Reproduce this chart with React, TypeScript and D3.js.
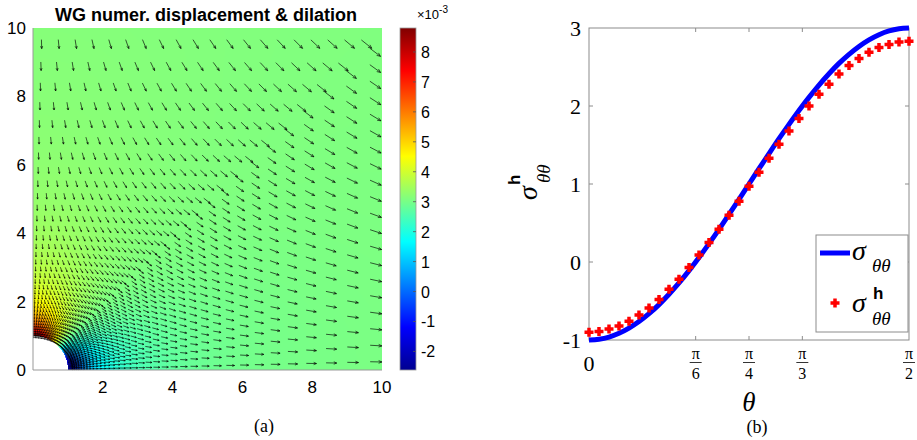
import React, { useMemo } from 'react';
import * as d3 from 'd3';

// ---------- panel (a): field plot ----------
const fieldTicksY = [0, 2, 4, 6, 8, 10];
const fieldTicksX = [2, 4, 6, 8, 10];
const colorTicks = [-2, -1, 0, 1, 2, 3, 4, 5, 6, 7, 8];
const colorDomain = [-2.62, 8.8]; // x 1e-3
// jet colormap stops
const jetPos = [0, 0.125, 0.375, 0.625, 0.875, 1];
const jetColors = ['#000090', '#0000ff', '#00ffff', '#ffff00', '#ff0000', '#800000'];
// dilation (x 1e-3): far field and swing at the hole edge
const farDilation = 3.1;
const holeSwing = 5.7;
// mesh: 20 cells along each outer edge, ~36 graded rings
const edgeCells = 20;
const ringCells = 36;
const ringGrowth = 1.075;
// arrow length (px): [near-hole part, linear part]
const arrowX = [3.5, 0.85];
const arrowY = [2.5, 0.68];

// ---------- panel (b): sigma_theta_theta ----------
const thetaDeg = [0, 2.81, 5.63, 8.44, 11.25, 14.06, 16.88, 19.69, 22.5, 25.31, 28.13, 30.94, 33.75,
  36.56, 39.38, 42.19, 45, 47.81, 50.63, 53.44, 56.25, 59.06, 61.88, 64.69, 67.5, 70.31, 73.13,
  75.94, 78.75, 81.56, 84.38, 87.19, 90];
const sigmaExact = [-1, -0.99, -0.962, -0.914, -0.848, -0.764, -0.663, -0.546, -0.414, -0.269, -0.111,
  0.057, 0.235, 0.419, 0.61, 0.804, 1, 1.196, 1.39, 1.581, 1.765, 1.943, 2.111, 2.269, 2.414, 2.546,
  2.663, 2.764, 2.848, 2.914, 2.962, 2.99, 3];
const sigmaH = [-0.9, -0.89, -0.86, -0.82, -0.76, -0.68, -0.59, -0.48, -0.35, -0.22, -0.07, 0.09,
  0.25, 0.42, 0.6, 0.78, 0.97, 1.15, 1.33, 1.51, 1.68, 1.84, 2.0, 2.15, 2.28, 2.41, 2.52, 2.61, 2.69,
  2.75, 2.79, 2.82, 2.83];
const yTicksB = [-1, 0, 1, 2, 3];
const xTicksB = [
  { v: 0, num: '', den: '' },
  { v: Math.PI / 6, num: 'π', den: '6' },
  { v: Math.PI / 4, num: 'π', den: '4' },
  { v: Math.PI / 3, num: 'π', den: '3' },
  { v: Math.PI / 2, num: 'π', den: '2' },
];

const sans = 'Liberation Sans, Arial, Helvetica, sans-serif';
const serif = 'Liberation Serif, DejaVu Serif, serif';

const App = () => {
  const fx = d3.scaleLinear().domain([0, 10]).range([33, 382]);
  const fy = d3.scaleLinear().domain([0, 10]).range([370, 28]);
  const cy = d3.scaleLinear().domain(colorDomain).range([370, 28]);
  const jet = d3
    .scaleLinear<string>()
    .domain(jetPos.map(p => colorDomain[0] + p * (colorDomain[1] - colorDomain[0])))
    .range(jetColors)
    .interpolate(d3.interpolateRgb)
    .clamp(true);

  const dilation = (x: number, y: number) => {
    const r2 = x * x + y * y;
    const c2 = (x * x - y * y) / r2;
    return farDilation - (holeSwing * c2) / r2;
  };

  // field image drawn to a canvas, then put into the svg
  const fieldImage = useMemo(() => {
    const x0 = fx.range()[0], x1 = fx.range()[1];
    const y0 = fy.range()[1], y1 = fy.range()[0];
    const w = Math.round(x1 - x0), h = Math.round(y1 - y0);
    const canvas = document.createElement('canvas');
    canvas.width = w;
    canvas.height = h;
    const ctx = canvas.getContext('2d');
    if (!ctx) return '';
    const img = ctx.createImageData(w, h);
    for (let j = 0; j < h; j++) {
      for (let i = 0; i < w; i++) {
        const x = fx.invert(x0 + i + 0.5);
        const y = fy.invert(y0 + j + 0.5);
        const k = (j * w + i) * 4;
        if (x * x + y * y < 1) {
          img.data[k + 3] = 0;
          continue;
        }
        const c = d3.rgb(jet(dilation(x, y)));
        img.data[k] = c.r;
        img.data[k + 1] = c.g;
        img.data[k + 2] = c.b;
        img.data[k + 3] = 255;
      }
    }
    ctx.putImageData(img, 0, 0);
    return canvas.toDataURL();
  }, []);

  // quiver arrows at cell centres of the mapped mesh
  const arrowPath = useMemo(() => {
    const nA = edgeCells * 2;
    const total = Math.pow(ringGrowth, ringCells) - 1;
    const s = d3.range(ringCells + 1).map(i => (Math.pow(ringGrowth, i) - 1) / total);
    const node = (i: number, j: number) => {
      const phi = (j / nA) * (Math.PI / 2);
      const ix = Math.cos(phi), iy = Math.sin(phi);
      const ox = j <= edgeCells ? 10 : 10 * (nA - j) / edgeCells;
      const oy = j <= edgeCells ? 10 * j / edgeCells : 10;
      return [ix + s[i] * (ox - ix), iy + s[i] * (oy - iy)];
    };
    const p = d3.path();
    for (let i = 0; i < ringCells; i++) {
      for (let j = 0; j < nA; j++) {
        const a = node(i, j), b = node(i + 1, j), c = node(i + 1, j + 1), d = node(i, j + 1);
        const x = (a[0] + b[0] + c[0] + d[0]) / 4;
        const y = (a[1] + b[1] + c[1] + d[1]) / 4;
        const r = Math.hypot(x, y);
        const ux = arrowX[0] * x / r + arrowX[1] * x;
        const uy = arrowY[0] * y / r + arrowY[1] * y; // downward, px
        const px = fx(x), py = fy(y);
        const tx = px + ux, ty = py + uy;
        const L = Math.hypot(ux, uy);
        const ang = Math.atan2(uy, ux);
        const hl = L * 0.3;
        p.moveTo(px, py);
        p.lineTo(tx, ty);
        p.moveTo(tx - hl * Math.cos(ang - 0.4), ty - hl * Math.sin(ang - 0.4));
        p.lineTo(tx, ty);
        p.lineTo(tx - hl * Math.cos(ang + 0.4), ty - hl * Math.sin(ang + 0.4));
      }
    }
    return p.toString();
  }, []);

  // panel (b) scales
  const bx = d3.scaleLinear().domain([0, Math.PI / 2]).range([589, 909]);
  const by = d3.scaleLinear().domain([-1, 3]).range([340, 28]);
  const rad = thetaDeg.map(d => (d * Math.PI) / 180);
  const line = d3
    .line<number>()
    .x((_, i) => bx(rad[i]))
    .y(d => by(d))
    .curve(d3.curveMonotoneX);

  const holePath = `M${fx(0)},${fy(0)} L${fx(1)},${fy(0)} A${fx(1) - fx(0)},${fy(0) - fy(1)} 0 0 0 ${fx(0)},${fy(1)} Z`;
  const plus = 'M-4.5,0H4.5M0,-4.5V4.5';

  return (
    <svg width={917} height={440} style={{ position: 'absolute', left: 0, top: 0, background: '#fff' }}>
      <defs>
        <linearGradient id="jetbar" x1="0" y1="1" x2="0" y2="0">
          {jetPos.map((p, i) => (
            <stop key={i} offset={p} stopColor={jetColors[i]} />
          ))}
        </linearGradient>
      </defs>

      {/* ----- panel (a) ----- */}
      <text x={206} y={21} textAnchor="middle" fontFamily={sans} fontWeight="bold" fontSize={18}>
        WG numer. displacement &amp; dilation
      </text>
      <image href={fieldImage} x={fx(0)} y={fy(10)} width={fx(10) - fx(0)} height={fy(0) - fy(10)} />
      <path d={holePath} fill="#fff" />
      <path d={arrowPath} fill="none" stroke="#000" strokeWidth={0.65} />
      <line x1={fx(0)} x2={fx(0)} y1={fy(0)} y2={fy(10)} stroke="#999" strokeWidth={1} />
      <line x1={fx(0)} x2={fx(10)} y1={fy(0)} y2={fy(0)} stroke="#999" strokeWidth={1} />
      {fieldTicksY.map(t => (
        <text key={t} x={26} y={fy(t) + 6} textAnchor="end" fontFamily={sans} fontSize={17}>
          {t}
        </text>
      ))}
      {fieldTicksX.map(t => (
        <text key={t} x={fx(t)} y={393} textAnchor="middle" fontFamily={sans} fontSize={17}>
          {t}
        </text>
      ))}
      <text x={264} y={432} textAnchor="middle" fontFamily={serif} fontSize={18}>
        (a)
      </text>

      {/* colorbar */}
      <rect x={400} y={28} width={16} height={342} fill="url(#jetbar)" stroke="#999" strokeWidth={0.8} />
      {colorTicks.map(t => (
        <g key={t}>
          <line x1={413} x2={416} y1={cy(t)} y2={cy(t)} stroke="#555" strokeWidth={0.8} />
          <text x={421} y={cy(t) + 6} fontFamily={sans} fontSize={16}>
            {t}
          </text>
        </g>
      ))}
      <text x={417} y={19} fontFamily={sans} fontSize={13}>
        ×10
        <tspan dy={-6} fontSize={10}>-3</tspan>
      </text>

      {/* ----- panel (b) ----- */}
      <rect x={bx(0)} y={by(3)} width={bx(Math.PI / 2) - bx(0)} height={by(-1) - by(3)} fill="none" stroke="#8c8c8c" strokeWidth={1} />
      {xTicksB.slice(1, 4).map(t => (
        <g key={t.den}>
          <line x1={bx(t.v)} x2={bx(t.v)} y1={by(-1)} y2={by(-1) - 4} stroke="#8c8c8c" />
          <line x1={bx(t.v)} x2={bx(t.v)} y1={by(3)} y2={by(3) + 4} stroke="#8c8c8c" />
        </g>
      ))}
      {yTicksB.slice(1, 4).map(t => (
        <g key={t}>
          <line x1={bx(0)} x2={bx(0) + 4} y1={by(t)} y2={by(t)} stroke="#8c8c8c" />
          <line x1={bx(Math.PI / 2)} x2={bx(Math.PI / 2) - 4} y1={by(t)} y2={by(t)} stroke="#8c8c8c" />
        </g>
      ))}
      {yTicksB.map(t => (
        <text key={t} x={581} y={by(t) + 8} textAnchor="end" fontFamily={serif} fontSize={22}>
          {t}
        </text>
      ))}
      <text x={bx(0)} y={371} textAnchor="middle" fontFamily={serif} fontSize={22}>
        0
      </text>
      {xTicksB.slice(1).map(t => (
        <g key={t.den}>
          <text x={bx(t.v)} y={359} textAnchor="middle" fontFamily={serif} fontSize={16}>
            {t.num}
          </text>
          <line x1={bx(t.v) - 6} x2={bx(t.v) + 6} y1={362.5} y2={362.5} stroke="#000" strokeWidth={0.8} />
          <text x={bx(t.v)} y={379} textAnchor="middle" fontFamily={serif} fontSize={16}>
            {t.den}
          </text>
        </g>
      ))}
      <path d={line(sigmaExact) || ''} fill="none" stroke="#0000ff" strokeWidth={5} />
      {sigmaH.map((v, i) => (
        <path key={i} d={plus} transform={`translate(${bx(rad[i])},${by(v)})`} stroke="#ff0000" strokeWidth={3.5} fill="none" />
      ))}
      <text x={749} y={411} textAnchor="middle" fontFamily={serif} fontStyle="italic" fontSize={27}>
        θ
      </text>
      <text x={757} y={433} textAnchor="middle" fontFamily={serif} fontSize={18}>
        (b)
      </text>

      {/* y label */}
      <g transform="translate(537,200) rotate(-90)">
        <text x={0} y={0} fontFamily={serif} fontStyle="italic" fontSize={28}>σ</text>
        <text x={15} y={-17} fontFamily={sans} fontWeight="bold" fontSize={17}>h</text>
        <text x={17} y={13} fontFamily={serif} fontStyle="italic" fontSize={19}>θθ</text>
      </g>

      {/* legend */}
      <rect x={816} y={235} width={92} height={97} fill="#fff" stroke="#8c8c8c" strokeWidth={1} />
      <line x1={820} x2={850} y1={253} y2={253} stroke="#0000ff" strokeWidth={5} />
      <text x={852} y={260} fontFamily={serif} fontStyle="italic" fontSize={28}>σ</text>
      <text x={872} y={272} fontFamily={serif} fontStyle="italic" fontSize={19}>θθ</text>
      <path d={plus} transform="translate(835,303)" stroke="#ff0000" strokeWidth={3.5} fill="none" />
      <text x={852} y={312} fontFamily={serif} fontStyle="italic" fontSize={28}>σ</text>
      <text x={873} y={299} fontFamily={sans} fontWeight="bold" fontSize={17}>h</text>
      <text x={872} y={325} fontFamily={serif} fontStyle="italic" fontSize={19}>θθ</text>
    </svg>
  );
};

export default App;
